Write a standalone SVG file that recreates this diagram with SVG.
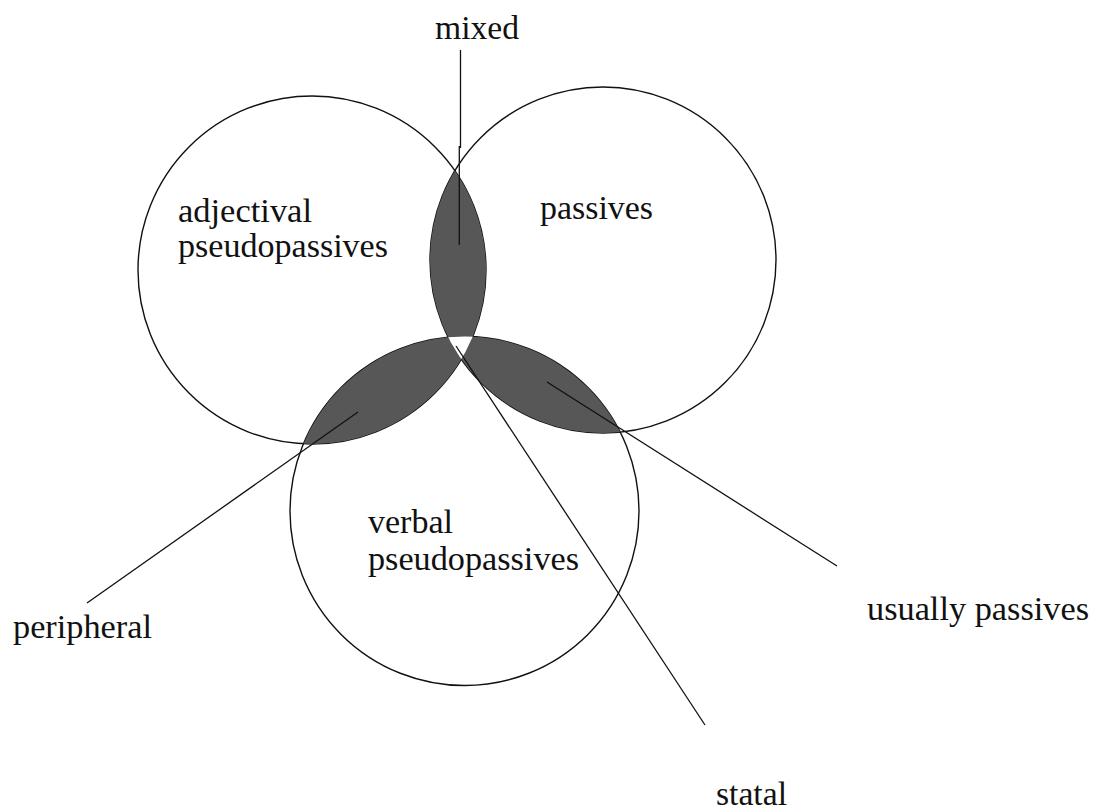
<svg xmlns="http://www.w3.org/2000/svg" width="1106" height="810" viewBox="0 0 1106 810">
  <style>
    .ring { fill: none; stroke: #111; stroke-width: 1.4; }
    .lens { fill: #575757; stroke: none; }
    .core { fill: #ffffff; stroke: none; }
    .lbl { font-family: "Liberation Serif", "Times New Roman", serif; font-size: 33px; fill: #111; }
    .conn { fill: none; stroke: #111; stroke-width: 1.3; }
  </style>
  <defs>
    <clipPath id="clipA"><circle cx="312" cy="270" r="174"/></clipPath>
    <clipPath id="clipB"><circle cx="603" cy="260" r="173"/></clipPath>
    <clipPath id="clipC"><circle cx="464.5" cy="511" r="174.5"/></clipPath>
  </defs>
  <rect width="1106" height="810" fill="#ffffff"/>

  <g id="circle-adjectival">
    <circle class="ring" cx="312" cy="270" r="174"/>
  </g>
  <g id="circle-passives">
    <circle class="ring" cx="603" cy="260" r="173"/>
  </g>
  <g id="circle-verbal">
    <circle class="ring" cx="464.5" cy="511" r="174.5"/>
  </g>

  <g id="lens-mixed" clip-path="url(#clipA)">
    <circle class="lens" cx="603" cy="260" r="173"/>
  </g>
  <g id="lens-peripheral" clip-path="url(#clipA)">
    <circle class="lens" cx="464.5" cy="511" r="174.5"/>
  </g>
  <g id="lens-usually" clip-path="url(#clipB)">
    <circle class="lens" cx="464.5" cy="511" r="174.5"/>
  </g>
  <g id="core-statal" clip-path="url(#clipA)">
    <g clip-path="url(#clipB)">
      <circle class="core" cx="464.5" cy="511" r="174.5"/>
    </g>
  </g>

  <g id="connectors">
    <path class="conn" d="M460.5,50 L460.5,148 M459.3,146 L459.3,245"/>
    <path class="conn" d="M358,412 L87,603"/>
    <path class="conn" d="M456,346 L705,725"/>
    <path class="conn" d="M547,382 L837,566"/>
  </g>

  <g id="label-mixed"><text class="lbl" x="435" y="39" textLength="84" lengthAdjust="spacingAndGlyphs">mixed</text></g>
  <g id="label-adjectival">
    <text class="lbl" x="178" y="222" textLength="134" lengthAdjust="spacingAndGlyphs">adjectival</text>
    <text class="lbl" x="178" y="257" textLength="210" lengthAdjust="spacingAndGlyphs">pseudopassives</text>
  </g>
  <g id="label-passives"><text class="lbl" x="540" y="219" textLength="113" lengthAdjust="spacingAndGlyphs">passives</text></g>
  <g id="label-verbal">
    <text class="lbl" x="368" y="533" textLength="85" lengthAdjust="spacingAndGlyphs">verbal</text>
    <text class="lbl" x="368" y="570" textLength="211" lengthAdjust="spacingAndGlyphs">pseudopassives</text>
  </g>
  <g id="label-peripheral"><text class="lbl" x="13" y="638" textLength="139" lengthAdjust="spacingAndGlyphs">peripheral</text></g>
  <g id="label-usually"><text class="lbl" x="867" y="620" textLength="222" lengthAdjust="spacingAndGlyphs">usually passives</text></g>
  <g id="label-statal"><text class="lbl" x="716" y="805" textLength="71" lengthAdjust="spacingAndGlyphs">statal</text></g>
</svg>
